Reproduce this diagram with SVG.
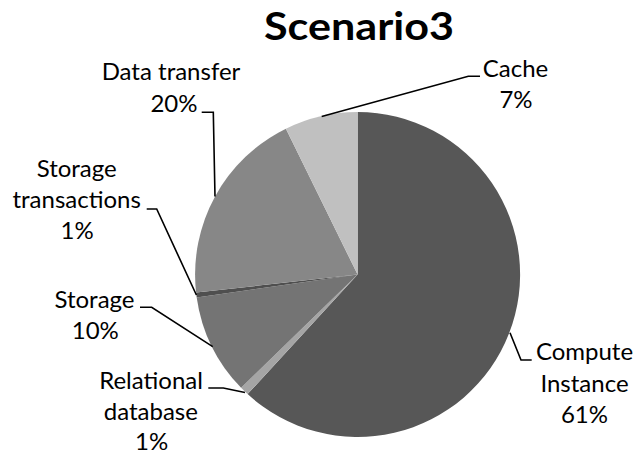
<svg xmlns="http://www.w3.org/2000/svg" width="635" height="457" viewBox="0 0 635 457">
  <style>
    .lbl { font-family: Lato, "Open Sans", "Liberation Sans", sans-serif; font-size: 24px; fill: #000; text-anchor: middle; }
    .title { font-family: Lato, "Open Sans", "Liberation Sans", sans-serif; font-size: 39px; font-weight: bold; fill: #000; text-anchor: middle; }
    .leader { fill: none; stroke: #000; stroke-width: 1.6; stroke-linejoin: miter; }
  </style>
  <rect width="635" height="457" fill="#fff"/>

  <text class="title" x="359" y="39.5" textLength="190" lengthAdjust="spacingAndGlyphs">Scenario3</text>

  <!-- pie slices, clockwise from 12 o'clock; centre (357.6, 274.5), r = 162.5 -->
  <g id="slice-compute"><path d="M357.6,274.5 L357.6,112 A162.5,162.5 0 1 1 247.6,394.1 Z" fill="#575757"/></g>
  <g id="slice-relational"><path d="M357.6,274.5 L247.6,394.1 A162.5,162.5 0 0 1 241.1,387.8 Z" fill="#a5a5a5"/></g>
  <g id="slice-storage"><path d="M357.6,274.5 L241.1,387.8 A162.5,162.5 0 0 1 196.7,297.4 Z" fill="#747474"/></g>
  <g id="slice-storage-transactions"><path d="M357.6,274.5 L196.7,297.4 A162.5,162.5 0 0 1 196.1,292.6 Z" fill="#4f4f4f"/></g>
  <g id="slice-data-transfer"><path d="M357.6,274.5 L196.1,292.6 A162.5,162.5 0 0 1 285.9,128.7 Z" fill="#878787"/></g>
  <g id="slice-cache"><path d="M357.6,274.5 L285.9,128.7 A162.5,162.5 0 0 1 357.6,112 Z" fill="#c0c0c0"/></g>

  <!-- leader lines -->
  <g id="leaders">
    <polyline class="leader" points="321.7,116.5 468.3,76.3 480,76.3"/>
    <polyline class="leader" points="201.7,112.3 213.3,112.3 215,196.5"/>
    <polyline class="leader" points="146.7,209 156.7,209 196.4,295"/>
    <polyline class="leader" points="140,307.3 151.7,307.3 212.7,346.7"/>
    <polyline class="leader" points="208.3,388 223.3,388 245,392.5"/>
    <polyline class="leader" points="510,332.7 521,360 531.7,360"/>
  </g>

  <!-- data labels -->
  <g id="label-cache">
    <text class="lbl" x="515.5" y="77">Cache</text>
    <text class="lbl" x="516" y="108">7%</text>
  </g>
  <g id="label-data-transfer">
    <text class="lbl" x="171" y="80">Data transfer</text>
    <text class="lbl" x="174" y="111.5">20%</text>
  </g>
  <g id="label-storage-transactions">
    <text class="lbl" x="76.7" y="177">Storage</text>
    <text class="lbl" x="76.7" y="208">transactions</text>
    <text class="lbl" x="77.2" y="239">1%</text>
  </g>
  <g id="label-storage">
    <text class="lbl" x="94.5" y="307.5">Storage</text>
    <text class="lbl" x="95.3" y="338.5">10%</text>
  </g>
  <g id="label-relational">
    <text class="lbl" x="151" y="388.5">Relational</text>
    <text class="lbl" x="150.8" y="419.5">database</text>
    <text class="lbl" x="151.7" y="450">1%</text>
  </g>
  <g id="label-compute">
    <text class="lbl" x="584.5" y="360">Compute</text>
    <text class="lbl" x="584.5" y="391.5">Instance</text>
    <text class="lbl" x="584.5" y="422.5">61%</text>
  </g>
</svg>
